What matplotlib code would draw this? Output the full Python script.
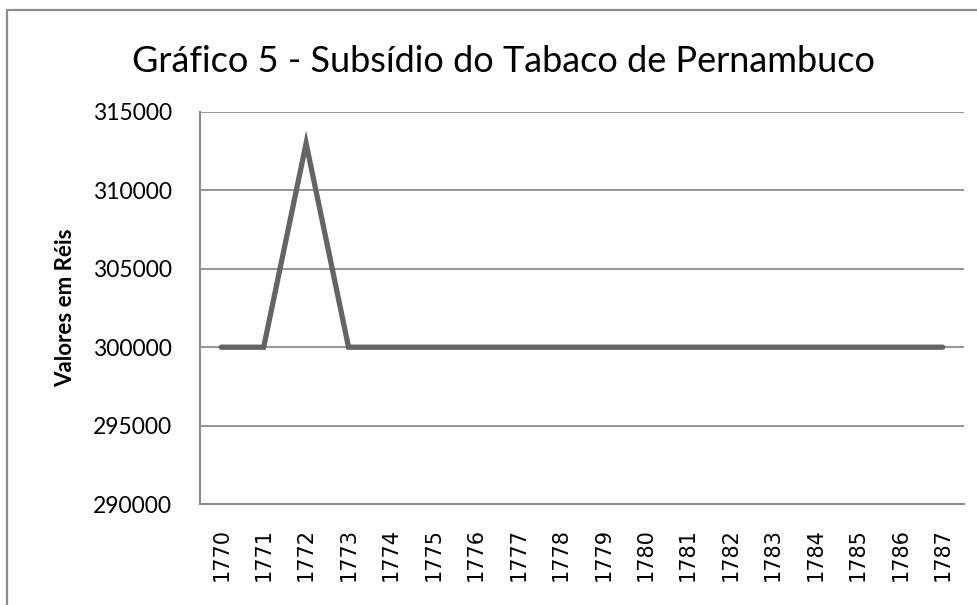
import matplotlib.pyplot as plt
from matplotlib.patches import Rectangle

years = [str(y) for y in range(1770, 1788)]
valores = [300000, 300000, 313000, 300000, 300000, 300000, 300000, 300000, 300000,
           300000, 300000, 300000, 300000, 300000, 300000, 300000, 300000, 300000]
yticks = [290000, 295000, 300000, 305000, 310000, 315000]

titulo = "Gráfico 5 - Subsídio do Tabaco de Pernambuco"
ylabel = "Valores em Réis"

fig = plt.figure(figsize=(9.78, 6.05), dpi=100)
ax = fig.add_axes([0.2045, 0.1669, 0.7812, 0.648])

# chart outer border (cropped at right and bottom)
fig.patches.append(Rectangle((7 / 978, -0.05), 1.2, 1 - 10 / 605 + 0.05,
                             transform=fig.transFigure, fill=False,
                             edgecolor="#8c8c8c", linewidth=1.6))

x = range(len(years))
ax.plot(x, valores, color="#646464", linewidth=3.8, solid_capstyle="round",
        solid_joinstyle="miter", zorder=3)

ax.set_xlim(-0.5, len(years) - 0.5)
ax.set_ylim(290000, 315000)
ax.set_yticks(yticks)
ax.set_yticklabels([str(v) for v in yticks], family="Lato", fontsize=16.5)
ax.set_xticks(list(x))
ax.set_xticklabels(years, rotation=90, family="DejaVu Sans", fontsize=15)
ax.tick_params(axis="both", length=0)
ax.tick_params(axis="y", pad=20)
ax.tick_params(axis="x", pad=17)

ax.grid(axis="y", color="#8c8c8c", linewidth=1.3)
ax.set_axisbelow(True)
for s in ["top", "right"]:
    ax.spines[s].set_visible(False)
for s in ["left", "bottom"]:
    ax.spines[s].set_color("#8c8c8c")
    ax.spines[s].set_linewidth(1.5)

ax.set_ylabel(ylabel, family="Lato", fontweight="bold", fontsize=16, labelpad=12)
fig.text(0.515, 0.898, titulo, family="Lato", fontsize=26, ha="center", va="center")

fig.savefig("out.png", dpi=100)
